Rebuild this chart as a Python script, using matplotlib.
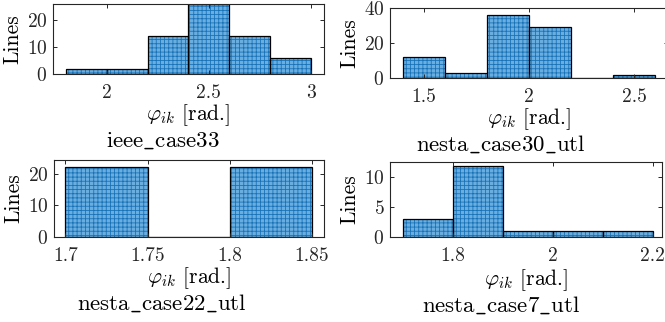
import matplotlib
matplotlib.use("Agg")
import matplotlib.pyplot as plt
import numpy as np

plt.rcParams["font.family"] = "serif"
plt.rcParams["font.serif"] = ["cmr10"]
plt.rcParams["mathtext.fontset"] = "cm"
plt.rcParams["axes.formatter.use_mathtext"] = True
plt.rcParams["hatch.linewidth"] = 0.6

# histogram data
case33_edges = [1.8, 2.0, 2.2, 2.4, 2.6, 2.8, 3.0]
case33_counts = [2, 2, 14, 26, 14, 6]

case30_edges = [1.4, 1.6, 1.8, 2.0, 2.2, 2.4, 2.6]
case30_counts = [12, 3, 36, 29, 0, 2]

case22_edges = [1.7, 1.75, 1.8, 1.85]
case22_counts = [22, 0, 22]

case7_edges = [1.7, 1.8, 1.9, 2.0, 2.1, 2.2]
case7_counts = [3, 12, 1, 1, 1]

W, H = 665, 322
FACE = "#6aaee0"
HATCH = "#1872b8"
SPINE = "#262626"


def add_panel(fig, box, edges, counts, xlim, ylim, xticks, xticklabels, yticks,
              title, label_y, title_x, title_y):
    x0, x1, top, bot = box
    ax = fig.add_axes([x0 / W, 1 - bot / H, (x1 - x0) / W, (bot - top) / H])
    edges = np.asarray(edges)
    widths = np.diff(edges)
    ax.bar(edges[:-1], counts, width=widths, align="edge", color=FACE,
           edgecolor=HATCH, hatch="++++", linewidth=0)
    ax.bar(edges[:-1], counts, width=widths, align="edge", fill=False,
           edgecolor="black", linewidth=0.9)
    ax.set_xlim(*xlim)
    ax.set_ylim(*ylim)
    ax.set_xticks(xticks)
    ax.set_xticklabels(xticklabels)
    ax.set_yticks(yticks)
    ax.tick_params(direction="in", length=3, width=0.7, top=True, right=True,
                   labelsize=14, colors=SPINE, pad=7.5)
    ax.tick_params(axis="y", pad=4)
    for s in ax.spines.values():
        s.set_color(SPINE)
        s.set_linewidth(0.8)
    ax.set_ylabel("Lines", fontsize=15.5, labelpad=3)
    cx = (x0 + x1) / 2 / W
    # x label sits under the axes, the case name is centred on the column
    fig.text(cx, 1 - label_y / H, r"$\varphi_{ik}$ [rad.]", ha="center",
             va="baseline", fontsize=15.5)
    fig.text(title_x / W, 1 - title_y / H, title, ha="center", va="baseline",
             fontsize=16.5)
    return ax


fig = plt.figure(figsize=(W / 100, H / 100), dpi=100)

add_panel(fig, (53, 324, 4, 74), case33_edges, case33_counts,
          (1.736, 3.064), (0, 26), [2, 2.5, 3], ["2", "2.5", "3"],
          [0, 10, 20], r"$\mathrm{ieee\_case33}$", 120.5, 163, 147)

add_panel(fig, (390, 668, 8, 78), case30_edges, case30_counts,
          (1.34, 2.66), (0, 40), [1.5, 2, 2.5], ["1.5", "2", "2.5"],
          [0, 20, 40], r"$\mathrm{nesta\_case30\_utl}$", 124.5, 501, 151)

add_panel(fig, (54, 324, 160, 237), case22_edges, case22_counts,
          (1.693, 1.8575), (0, 24.3), [1.7, 1.75, 1.8, 1.85],
          ["1.7", "1.75", "1.8", "1.85"], [0, 10, 20],
          r"$\mathrm{nesta\_case22\_utl}$", 283.5, 162, 310)

add_panel(fig, (390, 662, 161.5, 236.7), case7_edges, case7_counts,
          (1.675, 2.219), (0, 12.7), [1.8, 2, 2.2], ["1.8", "2", "2.2"],
          [0, 5, 10], r"$\mathrm{nesta\_case7\_utl}$", 285, 501, 312)

fig.savefig("out.png", dpi=100)
